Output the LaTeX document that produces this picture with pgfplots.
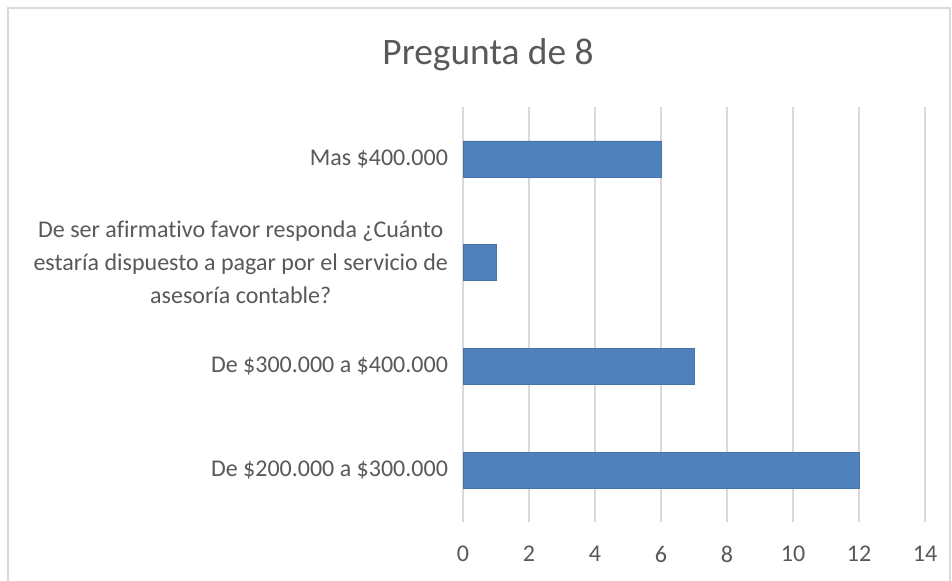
\documentclass[border=0pt]{standalone}
\usepackage{pgfplots}
\pgfplotsset{compat=1.18}
\usepackage{fontspec}
\setmainfont[Ligatures={NoCommon}]{Carlito}
\definecolor{barblue}{HTML}{4F81BD}
\definecolor{gridgray}{HTML}{D9D9D9}
\definecolor{txt}{HTML}{595959}
\begin{document}
\begin{tikzpicture}
\useasboundingbox (0,0) rectangle (476pt,290pt);
\fill[white] (0,0) rectangle (476pt,290pt);
\draw[gridgray, line width=0.8pt] (4pt,-2pt) -- (4pt,286pt) -- (475pt,286pt) -- (475pt,-2pt);
\node[text=txt, font=\fontsize{18.7}{22}\selectfont] at (244pt,262.5pt) {Pregunta de 8};
\begin{axis}[
  at={(231.5pt,29pt)}, anchor=south west,
  scale only axis, width=231pt, height=207.5pt,
  xbar, bar width=18pt,
  xmin=0, xmax=14, xtick={0,2,...,14},
  ymin=-0.5, ymax=3.5,
  ytick={0,1,2,3},
  yticklabels={{De \$200.000 a \$300.000},{De \$300.000 a \$400.000},{De ser afirmativo favor responda ¿Cuánto\\estaría dispuesto a pagar por el servicio de\\asesoría contable?},{Mas \$400.000}},
  yticklabel style={align=center, text=txt, font=\fontsize{12}{16.5}\selectfont, xshift=-4pt},
  xticklabel style={text=txt, font=\fontsize{12}{14}\selectfont, yshift=-8.5pt},
  /pgf/number format/assume math mode=true,
  xmajorgrids, grid style={gridgray, line width=0.8pt},
  axis line style={draw=none},
  major tick length=0pt,
  tick style={draw=none},
]
\addplot[fill=barblue, draw=barblue!90!black, line width=0.3pt] coordinates {(12,0) (7,1) (1,2) (6,3)};
\end{axis}
\end{tikzpicture}
\end{document}
